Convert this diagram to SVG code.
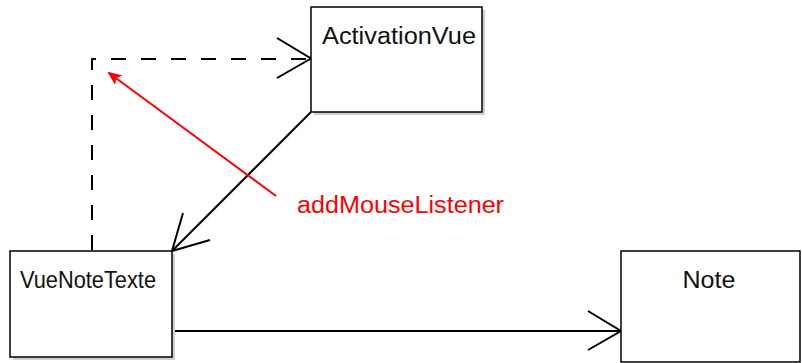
<svg xmlns="http://www.w3.org/2000/svg" width="802" height="363" viewBox="0 0 802 363">
<style>
.box{fill:#fff;stroke:#000;stroke-width:1.5}
.shadow{fill:#d0d0d0}
.lbl{font-family:"Liberation Sans",Arial,sans-serif;font-size:23px;fill:#111}
.conn{fill:none;stroke:#000;stroke-width:2}
.red{font-family:"Liberation Sans",Arial,sans-serif;font-size:23px;fill:#ff0000}
</style>
<defs>
<marker id="redhead" markerWidth="14" markerHeight="12" refX="12" refY="6" orient="auto" markerUnits="userSpaceOnUse" viewBox="0 0 14 12">
<path d="M0,0 L14,6 L0,12 L3,6 Z" fill="#ff0000"/>
</marker>
</defs>
<rect width="802" height="363" fill="#fff"/>
<g id="connectors">
<path class="conn" d="M92,251 V59 H310" stroke-dasharray="15,15" stroke-dashoffset="29"/>
<path class="conn" d="M277,38 L311,58.5 L277,78"/>
<path class="conn" d="M311,112 L172,251"/>
<path class="conn" d="M183,213 L172,251 L210,240"/>
<path class="conn" d="M172,331 H620"/>
<path class="conn" d="M588,311 L621,331 L588,350"/>
<path d="M276,196 L109,73" stroke="#ff0000" stroke-width="2" fill="none" marker-end="url(#redhead)"/>
<text class="red" x="297" y="213" textLength="207" lengthAdjust="spacingAndGlyphs">addMouseListener</text>
</g>
<g id="ActivationVue">
<rect class="shadow" x="314" y="10" width="171" height="105"/>
<rect class="box" x="311" y="7" width="171" height="105"/>
<text class="lbl" x="322" y="44" textLength="154" lengthAdjust="spacingAndGlyphs">ActivationVue</text>
</g>
<g id="VueNoteTexte">
<rect class="shadow" x="13" y="254" width="162" height="106"/>
<rect class="box" x="10" y="251" width="162" height="106"/>
<text class="lbl" x="20" y="288" textLength="136" lengthAdjust="spacingAndGlyphs">VueNoteTexte</text>
</g>
<g id="Note">
<rect class="box" x="621" y="251" width="179" height="111"/>
<text class="lbl" x="682.5" y="288" textLength="53" lengthAdjust="spacingAndGlyphs">Note</text>
</g>
</svg>
